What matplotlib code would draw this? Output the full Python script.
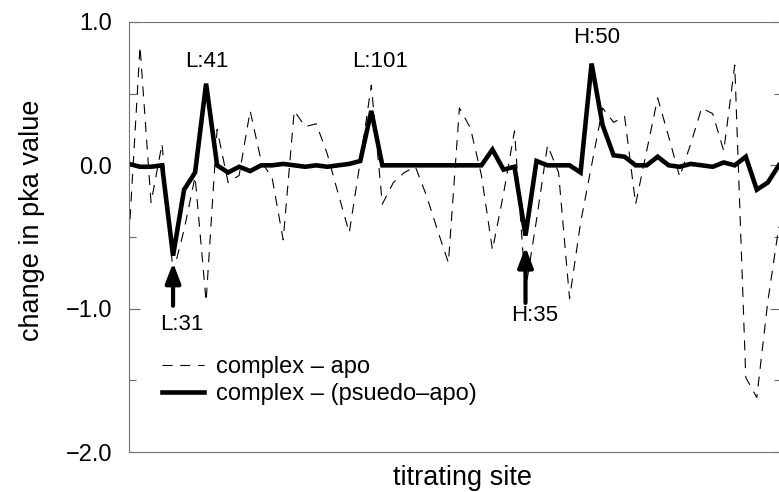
import matplotlib.pyplot as plt
import numpy as np

plt.rcParams['font.family'] = ['Liberation Sans', 'DejaVu Sans']

# change in pKa per titrating site
apo_diff = [-0.5, 0.83, -0.26, 0.15, -0.75, -0.45, -0.08, -0.95, 0.25, -0.12,
            -0.07, 0.38, 0.03, -0.09, -0.52, 0.38, 0.27, 0.29, 0.08, -0.2,
            -0.47, 0.03, 0.56, -0.27, -0.12, -0.05, -0.01, -0.21, -0.45, -0.68,
            0.40, 0.26, -0.07, -0.59, -0.2, 0.24, -0.87, -0.38, 0.14, -0.05,
            -0.93, -0.4, 0.0, 0.40, 0.30, 0.34, -0.27, 0.1, 0.47, 0.2,
            -0.08, 0.15, 0.40, 0.36, 0.1, 0.70, -1.48, -1.62, -0.95, -0.43]
pseudo_diff = [0.01, -0.01, -0.01, 0.0, -0.63, -0.17, -0.05, 0.57, 0.0, -0.05,
               -0.01, -0.04, 0.0, 0.0, 0.01, 0.0, -0.01, 0.0, -0.01, 0.0,
               0.01, 0.03, 0.38, 0.0, 0.0, 0.0, 0.0, 0.0, 0.0, 0.0,
               0.0, 0.0, 0.0, 0.11, -0.03, -0.01, -0.49, 0.03, 0.0, 0.0,
               0.0, -0.05, 0.71, 0.28, 0.07, 0.06, 0.0, 0.0, 0.06, 0.0,
               -0.01, 0.01, 0.0, -0.01, 0.02, 0.0, 0.06, -0.17, -0.12, 0.0]
labels = ['complex \u2013 apo', 'complex \u2013 (psuedo\u2013apo)']

# labelled sites: (text, site index, value of text)
peak_labels = [('L:41', 7.1, 0.725), ('L:101', 22.8, 0.725), ('H:50', 42.5, 0.89)]
# arrows: (text, site index, arrow tip, arrow tail, text x, text y)
arrow_labels = [('L:31', 4, -0.68, -0.98, 4.8, -1.11),
                ('H:35', 36, -0.57, -0.96, 36.8, -1.045)]

yticks = [-2.0, -1.0, 0.0, 1.0]
yminor = [-1.5, -0.5, 0.5]

sites = np.arange(len(apo_diff))

fig = plt.figure(figsize=(7.79, 4.92), dpi=100)
ax = fig.add_axes([0.1656, 0.0813, 0.8370, 0.874])

ax.plot(sites, apo_diff, color='black', lw=0.8, linestyle=(0, (9, 7)), label=labels[0])
ax.plot(sites, pseudo_diff, color='black', lw=3.3, solid_joinstyle='miter', label=labels[1])

for txt, x, y in peak_labels:
    ax.text(x, y, txt, fontsize=16, ha='center', va='center')

for txt, x, tip, tail, tx, ty in arrow_labels:
    ax.annotate('', xy=(x, tip), xytext=(x, tail),
                arrowprops=dict(arrowstyle='-|>,head_length=0.6,head_width=0.23',
                                color='black', lw=3, mutation_scale=20,
                                shrinkA=0, shrinkB=0))
    ax.text(tx, ty, txt, fontsize=16, ha='center', va='center')

ax.set_xlim(0, 59.2)
ax.set_ylim(-2.0, 1.0)
ax.set_xticks([])
ax.set_yticks(yticks, [f'{v:.1f}'.replace('-', '\u2212') for v in yticks])
ax.set_yticks(yminor, minor=True)
ax.tick_params(axis='y', which='both', direction='in', right=True, labelsize=17,
               pad=12, color='0.4')
ax.tick_params(axis='y', which='major', length=8, width=0.8)
ax.tick_params(axis='y', which='minor', length=5, width=0.8)
for s in ax.spines.values():
    s.set_color('0.45')
    s.set_linewidth(0.8)

ax.set_xlabel('titrating site', fontsize=19.5)
ax.set_ylabel('change in pka value', fontsize=19.5)
ax.xaxis.set_label_coords(0.512, -0.03)
ax.yaxis.set_label_coords(-0.129, 0.54)

ax.legend(loc='center left', bbox_to_anchor=(0.0506, 0.166), frameon=False,
          fontsize=17, handlelength=1.8, handletextpad=0.5, labelspacing=0.2,
          borderpad=0, borderaxespad=0)

plt.savefig('out.png', dpi=100)
